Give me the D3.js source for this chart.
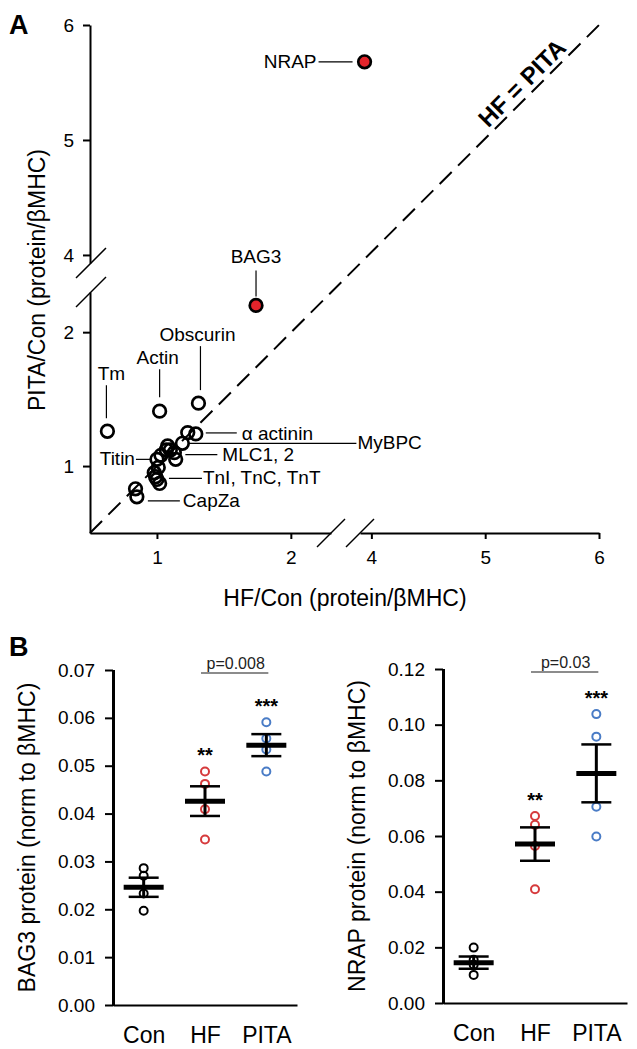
<!DOCTYPE html>
<html>
<head>
<meta charset="utf-8">
<script src="https://cdn.jsdelivr.net/npm/d3@7"></script>
<style>
body { margin: 0; background: #fff; }
text { font-family: "Liberation Sans", Arial, sans-serif; fill: #000; }
</style>
</head>
<body>
<div id="chart"></div>
<script>
// ---- panel A data: fold change vs control (protein / bMHC)
var hfRatio   = [0.63, 1.02, 1.31, 1.23, 1.29, 1.19, 1.08, 1.10, 1.13, 1.07, 1.14, 1.00, 1.03, 1.01, 0.98, 0.99, 1.00, 1.02, 0.84, 0.85]
var pitaRatio = [1.26, 1.41, 1.47, 1.25, 1.24, 1.17, 1.15, 1.12, 1.10, 1.12, 1.05, 1.05, 1.08, 0.99, 0.95, 0.92, 0.90, 0.87, 0.83, 0.77]
var hitNames = ["NRAP", "BAG3"]
var hitHF    = [3.94, 1.74]
var hitPITA  = [5.68, 2.20]
var xTicksLo = [1, 2], xTicksHi = [4, 5, 6]
var yTicksLo = [1, 2], yTicksHi = [4, 5, 6]

// ---- panel B data
var groups = ["Con", "HF", "PITA"]
var bag3Con  = [0.0286, 0.0270, 0.0233, 0.0197]
var bag3HF   = [0.0488, 0.0462, 0.0409, 0.0346]
var bag3PITA = [0.0591, 0.0557, 0.0534, 0.0488]
var bag3Mean = [0.0246, 0.0426, 0.0543]
var bag3Sem  = [0.0020, 0.0031, 0.0023]
var bag3Ticks = [0, 0.01, 0.02, 0.03, 0.04, 0.05, 0.06, 0.07]

var nrapCon  = [0.0199, 0.0155, 0.0137, 0.0101]
var nrapHF   = [0.0672, 0.0640, 0.0564, 0.0409]
var nrapPITA = [0.1038, 0.0957, 0.0705, 0.0598]
var nrapMean = [0.0145, 0.0571, 0.0825]
var nrapSem  = [0.0022, 0.0060, 0.0104]
var nrapTicks = [0, 0.02, 0.04, 0.06, 0.08, 0.10, 0.12]

var groupColors = ["#000000", "#d63a3c", "#4a7cc6"]

var svg = d3.select("#chart")
  .append("svg")
    .attr("width", 637)
    .attr("height", 1049)

// ================= panel A =================
var xLo = d3.scaleLinear().domain([0.5, 2.3]).range([90, 331])
var xHi = d3.scaleLinear().domain([3.9, 6]).range([360, 599])
var yLo = d3.scaleLinear().domain([0.5, 2.3]).range([533, 292])
var yHi = d3.scaleLinear().domain([3.93, 6]).range([263, 25])
function xA(v) { return v < 3 ? xLo(v) : xHi(v) }
function yA(v) { return v < 3 ? yLo(v) : yHi(v) }

var a = svg.append("g")

function styleAxis(g) {
  g.selectAll("path, line").style("stroke", "#000").style("stroke-width", "2px")
  g.selectAll("text").style("font-size", "19px").style("font-family", '"Liberation Sans", Arial, sans-serif')
}

a.append("g").attr("transform", "translate(0,533)")
  .call(d3.axisBottom(xLo).tickValues(xTicksLo).tickSize(6).tickSizeOuter(0).tickPadding(12).tickFormat(d3.format("d")))
  .call(styleAxis)
a.append("g").attr("transform", "translate(0,533)")
  .call(d3.axisBottom(xHi).tickValues(xTicksHi).tickSize(6).tickSizeOuter(0).tickPadding(12).tickFormat(d3.format("d")))
  .call(styleAxis)
a.append("g").attr("transform", "translate(90,0)")
  .call(d3.axisLeft(yLo).tickValues(yTicksLo).tickSize(7).tickSizeOuter(0).tickPadding(9).tickFormat(d3.format("d")))
  .call(styleAxis)
a.append("g").attr("transform", "translate(90,0)")
  .call(d3.axisLeft(yHi).tickValues(yTicksHi).tickSize(7).tickSizeOuter(0).tickPadding(9).tickFormat(d3.format("d")))
  .call(styleAxis)

// axis break slashes
var xBreaks = [xLo.range()[1], xHi.range()[0]]
var yBreaks = [yHi.range()[0], yLo.range()[1]]
xBreaks.forEach(function(e) {
  a.append("line").attr("x1", e - 14).attr("y1", 533 + 14).attr("x2", e + 14).attr("y2", 533 - 14)
    .style("stroke", "#000").style("stroke-width", "1.5px")
})
yBreaks.forEach(function(e) {
  a.append("line").attr("x1", 90 - 14).attr("y1", e + 15).attr("x2", 90 + 16).attr("y2", e - 15)
    .style("stroke", "#000").style("stroke-width", "1.5px")
})

// identity line
a.append("line")
  .attr("x1", xA(0.5)).attr("y1", yA(0.5))
  .attr("x2", xA(6)).attr("y2", yA(6))
  .style("stroke", "#000").style("stroke-width", "2px").style("stroke-dasharray", "17,9")

var angle = Math.atan2(yA(6) - yA(0.5), xA(6) - xA(0.5)) * 180 / Math.PI
a.append("text")
  .attr("transform", "translate(" + (xA(5.41) - 4) + "," + (yA(5.41) - 4) + ")rotate(" + angle + ")")
  .attr("text-anchor", "middle")
  .style("font-size", "24px").style("font-weight", "bold")
  .text("HF = PITA")

// callouts (leader line offsets in px from the point)
var callouts = [
  {t: "NRAP", hit: 0, line: [-46, 0, -12, 0], tx: -48, ty: 6, anchor: "end"},
  {t: "BAG3", hit: 1, line: [0, -35, 0, -9], tx: 0, ty: -42, anchor: "middle"},
  {t: "Obscurin", p: 2, line: [2, -57, 2, -13], tx: -1, ty: -62, anchor: "middle"},
  {t: "Actin", p: 1, line: [0, -42, 0, -14], tx: -2, ty: -47, anchor: "middle"},
  {t: "Tm", p: 0, line: [-1, -46, -1, -13], tx: 4, ty: -51, anchor: "middle"},
  {t: "\u03b1 actinin", p: 4, line: [10, -1, 41, -1], tx: 46, ty: 6, anchor: "start"},
  {t: "MyBPC", p: 5, line: [7, 0, 174, 0], tx: 175, ty: 6, anchor: "start"},
  {t: "MLC1, 2", p: 8, line: [11, 2, 43, 2], tx: 48, ty: 8, anchor: "start"},
  {t: "Titin", p: 11, line: [-21, 0, -7, 0], tx: -22, ty: 6, anchor: "end"},
  {t: "TnI, TnC, TnT", p: 16, line: [12, -1, 45, -1], tx: 46, ty: 5, anchor: "start"},
  {t: "CapZa", p: 19, line: [11, 4, 43, 4], tx: 46, ty: 10, anchor: "start"}
]
callouts.forEach(function(c) {
  var px, py
  if (c.hit != undefined) { px = xA(hitHF[c.hit]); py = yA(hitPITA[c.hit]) }
  else { px = xA(hfRatio[c.p]); py = yA(pitaRatio[c.p]) }
  a.append("line")
    .attr("x1", px + c.line[0]).attr("y1", py + c.line[1])
    .attr("x2", px + c.line[2]).attr("y2", py + c.line[3])
    .style("stroke", "#000").style("stroke-width", "1.2px")
  a.append("text")
    .attr("x", px + c.tx).attr("y", py + c.ty)
    .attr("text-anchor", c.anchor)
    .style("font-size", "19px")
    .text(c.t)
})

a.selectAll("circle.prot")
  .data(hfRatio)
  .enter()
  .append("circle")
    .attr("class", "prot")
    .attr("cx", function(d) { return xA(d) })
    .attr("cy", function(d, i) { return yA(pitaRatio[i]) })
    .attr("r", 6.3)
    .style("fill", "none").style("stroke", "#000").style("stroke-width", "2.7px")

a.selectAll("circle.hit")
  .data(hitNames)
  .enter()
  .append("circle")
    .attr("class", "hit")
    .attr("cx", function(d, i) { return xA(hitHF[i]) })
    .attr("cy", function(d, i) { return yA(hitPITA[i]) })
    .attr("r", 6.3)
    .style("fill", "#e3242b").style("stroke", "#000").style("stroke-width", "2.7px")

a.append("text").attr("x", 345).attr("y", 606).attr("text-anchor", "middle")
  .style("font-size", "23px").text("HF/Con (protein/\u03b2MHC)")
a.append("text").attr("transform", "translate(45,280)rotate(-90)").attr("text-anchor", "middle")
  .style("font-size", "23px").text("PITA/Con (protein/\u03b2MHC)")
a.append("text").attr("x", 9).attr("y", 34).style("font-size", "27px").style("font-weight", "bold").text("A")

// ================= panel B =================
svg.append("text").attr("x", 9).attr("y", 656).style("font-size", "27px").style("font-weight", "bold").text("B")

function dotPanel(left, right, bottom, top, yMax, ticks, series, means, sems, pText, yTitle, titleX) {
  var g = svg.append("g")
  var x = d3.scalePoint().domain(groups).range([left, right]).padding(0.5)
  var y = d3.scaleLinear().domain([0, yMax]).range([bottom, top])

  g.append("g").attr("transform", "translate(" + left + ",0)")
    .call(d3.axisLeft(y).tickValues(ticks).tickSize(8).tickSizeOuter(0).tickPadding(10).tickFormat(d3.format(".2f")))
    .call(styleAxis)
  g.append("g").attr("transform", "translate(0," + bottom + ")")
    .call(d3.axisBottom(x).tickSize(0).tickSizeOuter(0).tickPadding(22))
    .call(styleAxis)
    .selectAll("text").style("font-size", "23px")
  // y axis spine
  g.append("rect").attr("x", left - 1).attr("width", 3).attr("y", y(yMax)).attr("height", y(0) - y(yMax) + 1)
    .style("fill", "#000")

  groups.forEach(function(grp, i) {
    var cx = x(grp)
    g.selectAll("circle.g" + i)
      .data(series[i])
      .enter()
      .append("circle")
        .attr("cx", cx)
        .attr("cy", function(d) { return y(d) })
        .attr("r", 4)
        .style("fill", "none").style("stroke", groupColors[i]).style("stroke-width", "2px")
    g.append("line").attr("x1", cx).attr("x2", cx)
      .attr("y1", y(means[i] + sems[i])).attr("y2", y(means[i] - sems[i]))
      .style("stroke", "#000").style("stroke-width", "3px")
    ;[means[i] + sems[i], means[i] - sems[i]].forEach(function(v) {
      g.append("line").attr("x1", cx - 15).attr("x2", cx + 15).attr("y1", y(v)).attr("y2", y(v))
        .style("stroke", "#000").style("stroke-width", "2.5px")
    })
    g.append("line").attr("x1", cx - 20).attr("x2", cx + 20).attr("y1", y(means[i])).attr("y2", y(means[i]))
      .style("stroke", "#000").style("stroke-width", "5px")
    if (i > 0) {
      g.append("text").attr("x", cx).attr("y", y(d3.max(series[i])) - 9)
        .attr("text-anchor", "middle").style("font-size", "20px").style("font-weight", "bold")
        .text(i == 1 ? "**" : "***")
    }
  })

  g.append("line").attr("x1", x("HF") - 4).attr("x2", x("PITA") + 2).attr("y1", top + 3).attr("y2", top + 3)
    .style("stroke", "#666").style("stroke-width", "1.5px")
  g.append("text").attr("x", (x("HF") + x("PITA")) / 2).attr("y", top - 1)
    .attr("text-anchor", "middle").style("font-size", "16px").style("fill", "#222").text(pText)

  g.append("text").attr("transform", "translate(" + titleX + "," + ((top + bottom) / 2) + ")rotate(-90)")
    .attr("text-anchor", "middle").style("font-size", "23px").text(yTitle)
}

dotPanel(113, 297, 1005, 670, 0.07, bag3Ticks, [bag3Con, bag3HF, bag3PITA], bag3Mean, bag3Sem,
  "p=0.008", "BAG3 protein (norm to \u03b2MHC)", 35)
dotPanel(443, 627, 1003, 669, 0.12, nrapTicks, [nrapCon, nrapHF, nrapPITA], nrapMean, nrapSem,
  "p=0.03", "NRAP protein (norm to \u03b2MHC)", 365)
</script>
</body>
</html>
